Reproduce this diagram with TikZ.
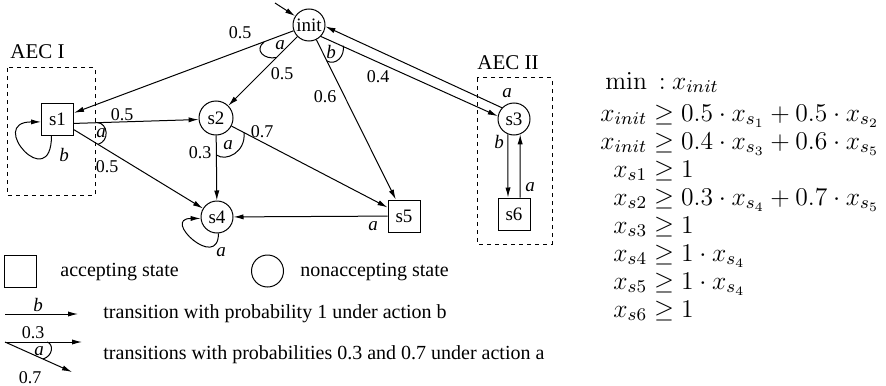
\RequirePackage{fix-cm}
\documentclass[tikz,border=0pt]{standalone}
\usepackage[no-math]{fontspec}
\setmainfont{Liberation Serif}
\usepackage{amsmath,amssymb}
\usetikzlibrary{arrows.meta}

\begin{document}
\begin{tikzpicture}[x=0.5pt,y=-0.5pt,
  nacc/.style={circle,draw,line width=0.5pt,inner sep=0pt,minimum size=16pt,font=\fontsize{9.5}{10}\selectfont},
  acc/.style={rectangle,draw,line width=0.5pt,inner sep=0pt,minimum size=16pt,font=\fontsize{9.5}{10}\selectfont},
  lbl/.style={inner sep=0pt,font=\fontsize{9}{10}\selectfont},
  act/.style={inner sep=0pt,font=\fontsize{9.5}{10}\selectfont\itshape},
  txt/.style={inner sep=0pt,anchor=west,font=\fontsize{10}{12}\selectfont},
  trans/.style={-{Latex[length=5pt,width=2.6pt]},line width=0.5pt},
  aec/.style={draw,dash pattern=on 2pt off 2pt,line width=0.5pt}]
\useasboundingbox (0,0) rectangle (886,385);

% end components
\draw[aec] (7,68) rectangle (95,195);
\node[txt,font=\fontsize{10.5}{12}\selectfont] (aec1) at (10,52) {AEC I};
\draw[aec] (477,78) rectangle (552,244);
\node[txt,font=\fontsize{10.5}{12}\selectfont] (aec2) at (477,63) {AEC II};

% states
\node[nacc] (init) at (309,25) {init};
\node[acc] (s1) at (57.5,119) {s1};
\node[nacc,minimum size=17pt] (s2) at (216,118) {s2};
\node[nacc] (s3) at (514,119) {s3};
\node[nacc] (s4) at (217,217) {s4};
\node[acc] (s5) at (404,216) {s5};
\node[acc] (s6) at (514,214) {s6};
\coordinate (start) at (275,3);

% transitions
\draw[trans] (start) -- (init);
\draw[trans] (init) -- (s1);
\draw[trans] (init) -- (s2);
\draw[trans] (init) -- (s5);
\draw[trans] (init.-44) -- (s3.170);
\draw[trans] (s3.137) -- (init.-5);
\draw[trans] (s1.-15) -- (s2.185);
\draw[trans] (s1.-33) -- (s4);
\draw[trans] (s1.250) .. controls +(0,60) and +(-55,0) .. (s1.190);
\draw[trans] (s2) -- (s4);
\draw[trans] (s2) -- (s5);
\draw[trans] (s5) -- (s4);
\draw[trans] (s4.-85) .. controls +(0,38) and +(-40,0) .. (s4.185);
\draw[trans] (s3.-112) -- ([xshift=-3pt]s6.north);
\draw[trans] ([xshift=3pt]s6.north) -- (s3.-68);

% action arcs
\draw[line width=0.5pt] (264,42) .. controls (254,50) and (264,60) .. (276.5,57.5);
\draw[line width=0.5pt] (326.7,60.9) .. controls (336,66) and (345,56) .. (343.2,45.7);
\draw[line width=0.5pt] (97,122.5) .. controls (108,123) and (110,141) .. (98,144.3);
\draw[line width=0.5pt] (216.5,155) .. controls (226,162) and (246,152) .. (244,132.6);

% labels
\node[lbl] (p-init-s1) at (240,33) {0.5};
\node[lbl] (p-init-s2) at (282,74) {0.5};
\node[lbl] (p-init-s5) at (325,97) {0.6};
\node[lbl] (p-init-s3) at (378,77) {0.4};
\node[act] (a-init) at (280,45) {a};
\node[act] (b-init) at (331,52) {b};
\node[lbl] (p-s1-s2) at (122,115) {0.5};
\node[lbl] (p-s1-s4) at (107,167) {0.5};
\node[act] (a-s1) at (101,133) {a};
\node[act] (b-s1) at (64,155) {b};
\node[lbl] (p-s2-s4) at (200,153) {0.3};
\node[lbl] (p-s2-s5) at (262,132) {0.7};
\node[act] (a-s2) at (228,145) {a};
\node[act] (a-s5) at (373,226) {a};
\node[act] (a-s4) at (221,252) {a};
\node[act] (a-s3) at (507,93) {a};
\node[act] (b-s3) at (499,142) {b};
\node[act] (a-s6) at (530,187) {a};

% legend
\node[acc] (leg-acc) at (20,271) {};
\node[txt] (leg-acc-t) at (60,272) {accepting state};
\node[nacc] (leg-nacc) at (267.5,271) {};
\node[txt] (leg-nacc-t) at (300,272) {nonaccepting state};
\coordinate (lb0) at (5,314);
\coordinate (lb1) at (78,314);
\draw[trans] (lb0) -- (lb1);
\node[act] (leg-b) at (38,305) {b};
\node[txt] (leg-b-t) at (103,314) {transition with probability 1 under action b};
\coordinate (la0) at (5,342);
\coordinate (la1) at (82,342);
\coordinate (la2) at (72,372);
\draw[trans] (la0) -- (la1);
\draw[trans] (la0) -- (la2);
\draw[line width=0.5pt] (47,342) .. controls (54,344) and (53,356) .. (43,359);
\node[lbl] (leg-03) at (33,333) {0.3};
\node[lbl] (leg-07) at (30,378) {0.7};
\node[act] (leg-a) at (39,351) {a};
\node[txt] (leg-a-t) at (103,355) {transitions with probabilities 0.3 and 0.7 under action a};

% linear program
\node[anchor=north west,inner sep=0pt,font=\fontsize{12.8}{14}\selectfont] (lp) at (600,69) {\setlength{\jot}{0pt}$\begin{aligned}
\min &\hspace{6pt}{:}\hspace{3pt}x_{init}\\[2pt]
x_{init} &\geq 0.5\cdot x_{s_1}+0.5\cdot x_{s_2}\\
x_{init} &\geq 0.4\cdot x_{s_3}+0.6\cdot x_{s_5}\\
x_{s1} &\geq 1\\
x_{s2} &\geq 0.3\cdot x_{s_4}+0.7\cdot x_{s_5}\\
x_{s3} &\geq 1\\
x_{s4} &\geq 1\cdot x_{s_4}\\
x_{s5} &\geq 1\cdot x_{s_4}\\
x_{s6} &\geq 1
\end{aligned}$};
\end{tikzpicture}
\end{document}
